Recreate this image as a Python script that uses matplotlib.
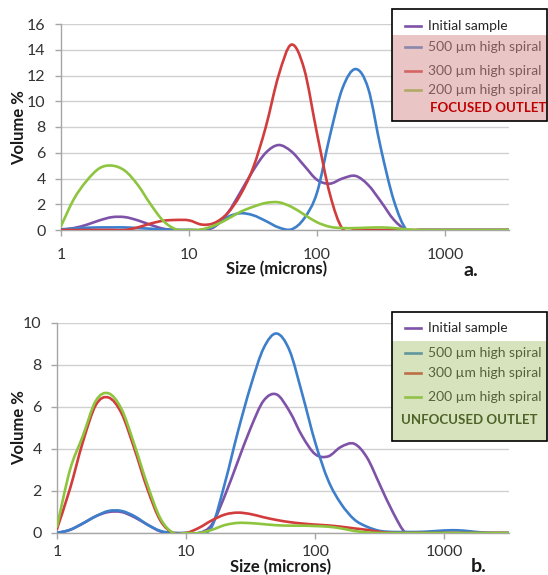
import numpy as np
import matplotlib
matplotlib.use("Agg")
import matplotlib.pyplot as plt
from matplotlib.lines import Line2D
from matplotlib.patches import Rectangle, PathPatch
from matplotlib.path import Path

plt.rcParams['font.family'] = ['Lato', 'DejaVu Sans']

# x positions (microns), ~0.1 decade steps
sizes = [1, 1.26, 1.58, 2.0, 2.51, 3.16, 3.98, 5.01, 6.31, 7.94,
         10, 12.6, 15.8, 20.0, 25.1, 31.6, 39.8, 50.1, 63.1, 79.4,
         100, 126, 158, 200, 251, 316, 398, 501, 631, 794,
         1000, 1259, 1585, 1995, 2512, 3162]

series_labels = ["Initial sample", "500 \u00b5m high spiral",
                 "300 \u00b5m high spiral", "200 \u00b5m high spiral"]
colors = ['#7D52A8', '#3D7FCB', '#D23C3C', '#8DC53F']

# Panel a (focused outlet)
a_initial = [0.0, 0.15, 0.4, 0.75, 1.0, 1.0, 0.75, 0.4, 0.1, 0.0,
             0.0, 0.0, 0.25, 1.3, 2.9, 4.6, 6.0, 6.6, 6.1, 5.0,
             3.9, 3.6, 4.0, 4.2, 3.5, 2.2, 0.8, 0.0, 0.0, 0.0,
             0.0, 0.0, 0.0, 0.0, 0.0, 0.0]
a_500 = [0.05, 0.12, 0.17, 0.2, 0.2, 0.2, 0.15, 0.1, 0.03, 0.0,
         0.0, 0.0, 0.3, 1.0, 1.3, 1.15, 0.7, 0.2, 0.05, 0.9,
         2.9, 7.3, 11.0, 12.5, 11.0, 6.3, 2.3, 0.0, 0.0, 0.0,
         0.0, 0.0, 0.0, 0.0, 0.0, 0.0]
a_300 = [0.0, 0.0, 0.0, 0.0, 0.0, 0.0, 0.2, 0.5, 0.72, 0.78,
         0.75, 0.42, 0.55, 1.3, 2.7, 4.8, 8.0, 12.0, 14.4, 12.5,
         7.5, 2.8, 0.1, 0.0, 0.0, 0.0, 0.0, 0.0, 0.0, 0.0,
         0.0, 0.0, 0.0, 0.0, 0.0, 0.0]
a_200 = [0.3, 2.4, 3.8, 4.8, 5.0, 4.6, 3.5, 2.0, 0.7, 0.05,
         0.0, 0.05, 0.35, 0.85, 1.4, 1.8, 2.1, 2.15, 1.8, 1.2,
         0.6, 0.25, 0.15, 0.15, 0.18, 0.2, 0.15, 0.05, 0.0, 0.0,
         0.0, 0.0, 0.0, 0.0, 0.0, 0.0]

# Panel b (unfocused outlet)
b_initial = [0.0, 0.15, 0.45, 0.8, 1.0, 1.0, 0.75, 0.4, 0.08, 0.0,
             0.0, 0.0, 0.4, 1.8, 3.4, 5.0, 6.3, 6.6, 5.8, 4.6,
             3.75, 3.65, 4.1, 4.25, 3.6, 2.3, 1.0, 0.0, 0.0, 0.0,
             0.0, 0.0, 0.0, 0.0, 0.0, 0.0]
b_500 = [0.0, 0.15, 0.45, 0.8, 1.05, 1.05, 0.8, 0.4, 0.1, 0.0,
         0.0, 0.0, 0.3, 2.4, 4.8, 7.0, 8.8, 9.5, 8.7, 6.6,
         4.3, 2.5, 1.4, 0.65, 0.3, 0.1, 0.05, 0.05, 0.05, 0.08,
         0.12, 0.13, 0.08, 0.02, 0.0, 0.0]
b_300 = [0.2, 2.1, 4.3, 6.1, 6.45, 5.7, 4.0, 2.1, 0.6, 0.0,
         0.0, 0.25, 0.6, 0.88, 0.97, 0.9, 0.75, 0.62, 0.52, 0.45,
         0.4, 0.36, 0.3, 0.22, 0.15, 0.05, 0.0, 0.0, 0.0, 0.0,
         0.0, 0.0, 0.0, 0.0, 0.0, 0.0]
b_200 = [0.3, 3.0, 4.6, 6.3, 6.65, 5.9, 4.2, 2.3, 0.7, 0.0,
         0.0, 0.0, 0.15, 0.38, 0.48, 0.47, 0.42, 0.37, 0.35, 0.35,
         0.33, 0.3, 0.22, 0.1, 0.03, 0.0, 0.0, 0.0, 0.0, 0.0,
         0.0, 0.0, 0.0, 0.0, 0.0, 0.0]

a_yticks = [0, 2, 4, 6, 8, 10, 12, 14, 16]
b_yticks = [0, 2, 4, 6, 8, 10]
xticks = [1, 10, 100, 1000]
xticklabels = ["1", "10", "100", "1000"]

W, H = 548, 575
fig = plt.figure(figsize=(W / 100, H / 100), dpi=100)


def fx(px):
    return px / W


def fy(py):
    return 1 - py / H


def smooth_path(xs, ys):
    """Excel-style smoothed line: cubic Bezier segments through the data
    points (control points built in log-x space, drawn by matplotlib)."""
    lx = np.log10(np.asarray(xs, float))
    y = np.asarray(ys, float)
    n = len(lx)
    verts = [(xs[0], y[0])]
    codes = [Path.MOVETO]
    for i in range(n - 1):
        i0 = max(i - 1, 0)
        i3 = min(i + 2, n - 1)
        c1x = lx[i] + (lx[i + 1] - lx[i0]) / 6
        c1y = y[i] + (y[i + 1] - y[i0]) / 6
        c2x = lx[i + 1] - (lx[i3] - lx[i]) / 6
        c2y = y[i + 1] - (y[i3] - y[i]) / 6
        verts += [(10 ** c1x, c1y), (10 ** c2x, c2y), (xs[i + 1], y[i + 1])]
        codes += [Path.CURVE4] * 3
    return Path(verts, codes)


def make_panel(rect, data, yticks, xpad):
    ax = fig.add_axes(rect)
    ax.set_xscale('log')
    for vals, c in zip(data, colors):
        ax.add_patch(PathPatch(smooth_path(sizes, vals), facecolor='none',
                               edgecolor=c, lw=1.9, capstyle='round',
                               joinstyle='round', zorder=3))
    ax.set_xlim(1, 3162)
    ax.set_ylim(yticks[0], yticks[-1])
    ax.set_yticks(yticks)
    ax.set_xticks(xticks)
    ax.set_xticklabels(xticklabels)
    ax.xaxis.set_minor_locator(matplotlib.ticker.NullLocator())
    ax.grid(axis='y', color='#D0D0D0', lw=1.0, zorder=0)
    for s in ['top', 'right']:
        ax.spines[s].set_visible(False)
    for s in ['left', 'bottom']:
        ax.spines[s].set_color('#A6A6A6')
        ax.spines[s].set_linewidth(1.0)
    ax.tick_params(axis='both', colors='#A6A6A6', labelcolor='#333333',
                   labelsize=11.5, length=4, width=1)
    ax.tick_params(axis='x', pad=xpad)
    ax.tick_params(axis='y', pad=7)
    return ax


ax_a = make_panel([fx(61), fy(230), fx(509) - fx(61), fy(24) - fy(230)],
                  [a_initial, a_500, a_300, a_200], a_yticks, 9)
ax_b = make_panel([fx(57), fy(533), fx(509) - fx(57), fy(323) - fy(533)],
                  [b_initial, b_500, b_300, b_200], b_yticks, 5)

# axis labels
for cy in (128, 428):
    fig.text(fx(19), fy(cy), "Volume %", rotation=90, ha='center',
             va='center', fontsize=12, fontweight='bold', color='#1a1a1a')
fig.text(fx(277), fy(269), "Size (microns)", ha='center', va='center',
         fontsize=12, fontweight='bold', color='#1a1a1a')
fig.text(fx(281), fy(567), "Size (microns)", ha='center', va='center',
         fontsize=12, fontweight='bold', color='#1a1a1a')
fig.text(fx(463), fy(270), "a.", ha='left', va='center', fontsize=14,
         fontweight='bold', color='#1a1a1a')
fig.text(fx(471), fy(567), "b.", ha='left', va='center', fontsize=14,
         fontweight='bold', color='#1a1a1a')


def draw_legend(box, rows_y, overlay_top, overlay_color, overlay_alpha,
                tag, tag_x, tag_ha, tag_y, tag_color):
    x0, y0, x1, y1 = box
    fig.patches.append(Rectangle((fx(x0), fy(y1)), fx(x1) - fx(x0),
                                 fy(y0) - fy(y1), transform=fig.transFigure,
                                 facecolor='white', edgecolor='none',
                                 zorder=5))
    for lab, c, ry in zip(series_labels, colors, rows_y):
        fig.lines.append(Line2D([fx(405), fx(421)], [fy(ry), fy(ry)],
                                transform=fig.transFigure, color=c, lw=1.9,
                                zorder=6))
        fig.text(fx(428), fy(ry), lab, ha='left', va='center',
                 fontsize=10, color='#262626', zorder=6)
    fig.patches.append(Rectangle((fx(x0), fy(y1)), fx(x1) - fx(x0),
                                 fy(overlay_top) - fy(y1),
                                 transform=fig.transFigure,
                                 facecolor=overlay_color, alpha=overlay_alpha,
                                 edgecolor='none', zorder=7))
    fig.patches.append(Rectangle((fx(x0), fy(y1)), fx(x1) - fx(x0),
                                 fy(y0) - fy(y1), transform=fig.transFigure,
                                 facecolor='none', edgecolor='black', lw=1.2,
                                 zorder=8))
    fig.text(fx(tag_x), fy(tag_y), tag, ha=tag_ha, va='center', fontsize=9.5,
             fontweight='bold', color=tag_color, zorder=9)


draw_legend((392, 9, 547, 121), [26, 47, 71, 90], 35, '#D58F8D', 0.5,
            "FOCUSED OUTLET", 430, 'left', 108, '#C00000')
draw_legend((392, 312, 547, 441), [328, 353, 373, 397], 341, '#9BBB59', 0.4,
            "UNFOCUSED OUTLET", 469, 'center', 420, '#4F6228')

fig.savefig("out.png", dpi=100)
